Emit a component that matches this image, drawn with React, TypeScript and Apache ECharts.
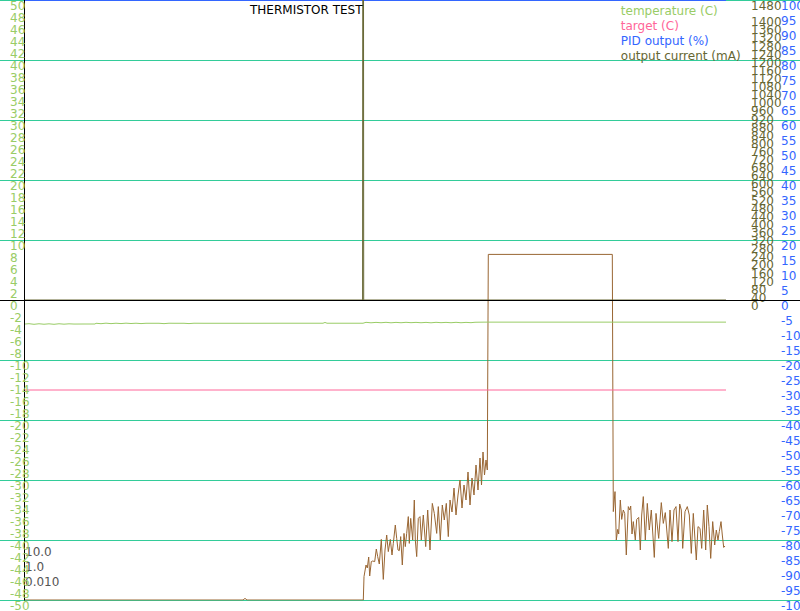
import React, { useEffect, useRef } from "react";
import * as echarts from "echarts";

const chartTitle = "THERMISTOR TEST";
const seriesNames = ["temperature (C)", "target (C)", "PID output (%)", "output current (mA)"];
const seriesColors = ["#99cc66", "#ff6699", "#3366ff", "#666633"];
const rawCurrentColor = "#996633";
const gridColor = "#33cc99";
const pidGains = ["10.0", "1.0", "0.010"];

// time (s) vs temperature (C)
const temperature: [number, number][] = [
  [0, -4.02], [5, -3.95], [10, -4.05], [15, -3.96], [20, -4.04], [25, -3.97], [30, -4.05], [35, -3.96],
  [40, -4.03], [45, -3.97], [50, -4.01], [60, -4.0], [71, -4.0],
  [72, -3.88], [77, -3.95], [82, -3.86], [87, -3.94], [92, -3.87], [97, -3.93], [102, -3.86], [107, -3.92],
  [112, -3.87], [117, -3.93], [122, -3.88], [126, -3.88], [135, -3.88], [140, -3.94], [145, -3.87],
  [150, -3.88], [160, -3.88], [165, -3.93], [170, -3.87], [180, -3.88], [220, -3.88], [260, -3.87],
  [299, -3.87], [301, -3.74], [303, -3.87], [339, -3.87],
  [342, -3.72], [347, -3.8], [352, -3.73], [357, -3.79], [362, -3.72], [367, -3.8], [372, -3.73], [377, -3.79],
  [382, -3.72], [387, -3.78], [392, -3.73], [397, -3.79], [402, -3.73], [407, -3.8], [412, -3.72], [417, -3.78],
  [422, -3.73], [427, -3.79], [432, -3.72], [437, -3.79], [442, -3.73], [447, -3.78], [451, -3.71],
  [460, -3.69], [520, -3.69], [580, -3.69], [640, -3.69], [702, -3.69],
];

const target: [number, number][] = [[0, -15], [350, -15], [702, -15]];
const pidOutput: [number, number][] = [[0, 100], [350, 100], [702, 100]];
const outputCurrent: [number, number][] = [[0, 0], [338.6, 0], [339.1, 5000], [339.7, 0], [702, 0]];

// raw drive current (mA)
const rawCurrent: [number, number][] = [
  [0, 0], [219, 0], [221, 8], [223, 0], [339.3, 0],
  [340, 117], [342, 175], [343.3, 160], [344.7, 215], [345.7, 120], [347.3, 192], [348.7, 195], [350.7, 192],
  [352.3, 255], [353.7, 217], [355.3, 180], [357.3, 303], [359.3, 103], [361, 250], [362.7, 325], [364.3, 242],
  [366.3, 303], [368, 225], [369.3, 283], [371.3, 375], [372.7, 308], [374, 250], [375.3, 247], [376.7, 317],
  [378.3, 175], [380, 333], [381.3, 267], [382.7, 333], [384.3, 417], [385.3, 283], [386.7, 408], [388.7, 300],
  [390.3, 500], [391.3, 300], [392.7, 217], [394.3, 408], [396, 417], [397.3, 300], [399.3, 425], [401.7, 267],
  [403.7, 450], [406, 250], [408.3, 483], [410.3, 433], [412.7, 333], [414.3, 467], [416.3, 300], [418.3, 475],
  [420.3, 400], [422.3, 483], [424.3, 317], [426, 500], [428, 440], [430, 560], [432, 425], [434, 525],
  [436, 600], [438, 460], [440, 575], [442, 500], [444, 640], [446, 475], [448, 610], [450, 525], [452, 675],
  [454, 550], [456, 710], [457.5, 575], [459, 740], [460.5, 625], [462, 700], [463.3, 650],
  [464.3, 1728], [588.3, 1728], [589.3, 442],
  [591, 542], [592.3, 300], [593.7, 353], [594.7, 330], [596.3, 500], [597.7, 403], [599.3, 450], [600.7, 433],
  [602.3, 225], [604.3, 467], [605.7, 450], [606.7, 470], [608, 330], [609.3, 392], [611.3, 300], [612.7, 403],
  [614.7, 413], [616.3, 250], [617.7, 425], [619.3, 517], [621.3, 300], [623.3, 483], [625.3, 350], [627.3, 450],
  [630.3, 213], [632, 433], [634.7, 308], [637.3, 487], [639.3, 383], [641.3, 437], [644.3, 258], [646, 450],
  [648, 292], [650, 450], [652, 467], [654, 292], [655.7, 480], [657.3, 450], [658.7, 258], [661, 442],
  [663.3, 467], [665.3, 425], [667.3, 233], [669.3, 433], [672.3, 200], [674, 367], [676, 358], [677.7, 258],
  [679.7, 450], [681.7, 250], [683.3, 475], [685, 367], [686.7, 208], [688.7, 392], [690.7, 275], [692.3, 350],
  [694, 300], [695.3, 342], [697, 392], [698.3, 325], [699.7, 263], [701, 270],
];

const FONT = "DejaVu Sans";

export default function App() {
  const ref = useRef<HTMLDivElement>(null);
  useEffect(() => {
    if (!ref.current) return;
    document.documentElement.style.overflow = "hidden";
    document.body.style.margin = "0";
    document.body.style.overflow = "hidden";
    const chart = echarts.init(ref.current, undefined, { renderer: "svg", width: 800, height: 611 });
    const lineSeries = (name: string, data: [number, number][], color: string, yAxisIndex: number, width = 1) => ({
      name,
      type: "line",
      data,
      yAxisIndex,
      showSymbol: false,
      symbol: "none",
      lineStyle: { color, width },
      itemStyle: { color },
      emphasis: { disabled: true },
    });
    const labelBase = {
      inside: true,
      align: "left",
      verticalAlign: "top",
      fontSize: 12,
      fontFamily: FONT,
      showMinLabel: true,
      showMaxLabel: true,
    };
    chart.setOption({
      animation: false,
      backgroundColor: "#ffffff",
      title: {
        text: chartTitle,
        left: 250,
        top: 4,
        padding: 0,
        textStyle: { fontSize: 12, fontWeight: "normal", color: "#000000", fontFamily: FONT },
      },
      legend: {
        orient: "vertical",
        left: 611,
        top: 5,
        padding: 0,
        itemGap: 3,
        itemWidth: 0,
        itemHeight: 12,
        selectedMode: false,
        itemStyle: { opacity: 0 },
        lineStyle: { opacity: 0 },
        textStyle: { fontSize: 12, fontFamily: FONT },
        data: seriesNames.map((n, i) => ({ name: n, textStyle: { color: seriesColors[i] } })),
      },
      graphic: pidGains.map((g, i) => ({
        type: "text",
        left: 25,
        top: 546 + i * 15,
        style: { text: g, fill: "#555555", font: `12px "${FONT}"` },
      })),
      grid: { left: 0, right: 0, top: 0, bottom: 11, containLabel: false, outerBoundsMode: "none" },
      xAxis: {
        type: "value",
        min: -24,
        max: 776,
        z: 10,
        axisLine: { show: true, onZero: true, onZeroAxisIndex: 0, lineStyle: { color: "#000000", width: 1 } },
        axisTick: { show: false },
        axisLabel: { show: false },
        splitLine: { show: false },
      },
      yAxis: [
        {
          type: "value",
          position: "left",
          offset: -5,
          min: -50,
          max: 50,
          interval: 2,
          z: 10,
          axisLine: { show: true, lineStyle: { color: "#000000", width: 1 } },
          axisTick: { show: false },
          splitLine: { show: false },
          axisLabel: { ...labelBase, margin: 5, color: seriesColors[0] },
        },
        {
          type: "value",
          position: "left",
          min: -50,
          max: 50,
          interval: 10,
          axisLine: { show: false },
          axisTick: { show: false },
          axisLabel: { show: false },
          splitLine: { show: true, lineStyle: { color: gridColor, width: 1 } },
        },
        {
          type: "value",
          position: "right",
          min: -100,
          max: 100,
          interval: 5,
          axisLine: { show: false },
          axisTick: { show: false },
          splitLine: { show: false },
          axisLabel: { ...labelBase, margin: 19, color: seriesColors[2] },
        },
        {
          type: "value",
          position: "right",
          min: -1480,
          max: 1480,
          interval: 40,
          axisLine: { show: false },
          axisTick: { show: false },
          splitLine: { show: false },
          axisLabel: {
            ...labelBase,
            margin: 49,
            color: seriesColors[3],
            formatter: (v: number) => (v < 0 ? "" : String(v)),
          },
        },
        { type: "value", show: false, min: 0, max: 3000 },
      ],
      series: [
        lineSeries("raw current (mA)", rawCurrent, rawCurrentColor, 4),
        lineSeries(seriesNames[0], temperature, seriesColors[0], 0),
        lineSeries(seriesNames[1], target, seriesColors[1], 0),
        lineSeries(seriesNames[2], pidOutput, seriesColors[2], 2, 2),
        lineSeries(seriesNames[3], outputCurrent, seriesColors[3], 3),
      ],
    });
    return () => chart.dispose();
  }, []);
  return (
    <div
      ref={ref}
      style={{ position: "fixed", left: 0, top: 0, width: 800, height: 611, background: "#ffffff" }}
    />
  );
}
